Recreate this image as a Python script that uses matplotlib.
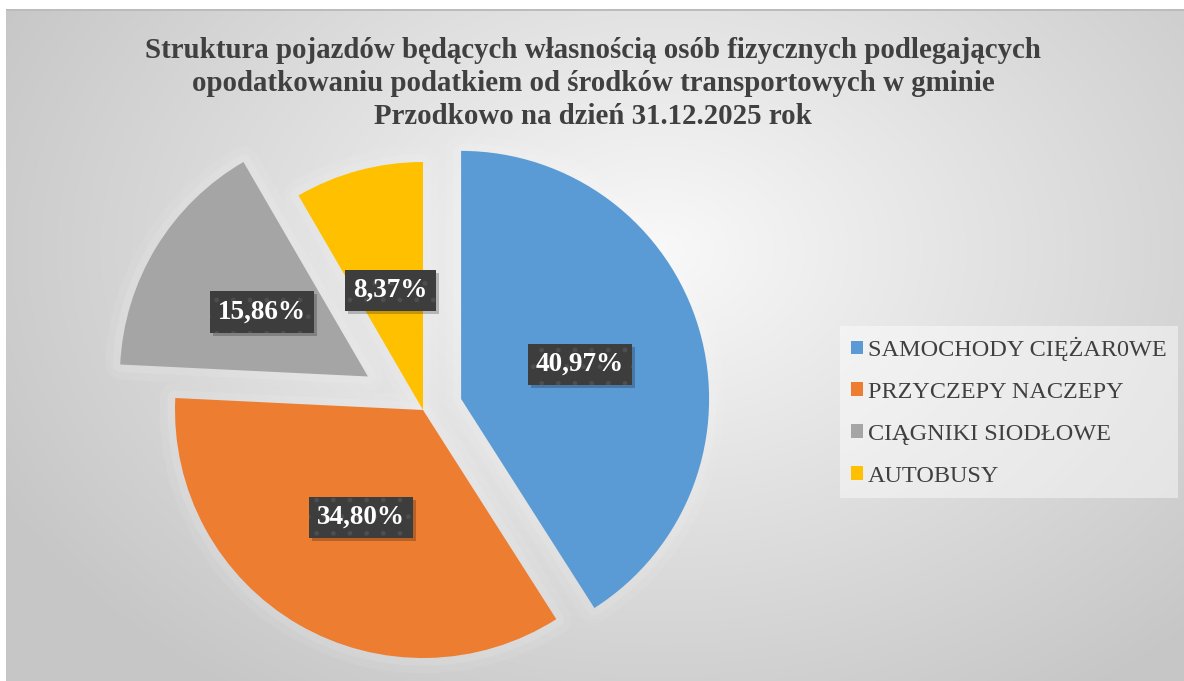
import matplotlib.pyplot as plt
import matplotlib.patches as mpatches
import numpy as np

# dane z wykresu
kategorie = ["SAMOCHODY CIĘŻAR0WE", "PRZYCZEPY NACZEPY", "CIĄGNIKI SIODŁOWE", "AUTOBUSY"]
udzialy = [40.97, 34.80, 15.86, 8.37]
kolory = ["#5B9BD5", "#ED7D31", "#A5A5A5", "#FFC000"]
wysuniecie = [0.16, 0.0, 0.26, 0.0]
tytul = ("Struktura pojazdów będących własnością osób fizycznych podlegających\n"
         "opodatkowaniu podatkiem od środków transportowych w gminie\n"
         "Przodkowo na dzień 31.12.2025 rok")

W, H = 1184, 681
R = 248.0  # promień koła w pikselach
plt.rcParams['font.family'] = ['Liberation Serif', 'DejaVu Serif']

fig = plt.figure(figsize=(W / 100, H / 100), dpi=100)
fig.patch.set_facecolor("white")
ax = fig.add_axes([0, 0, 1, 1])

# tło - gradient radialny
xx, yy = np.meshgrid(np.arange(W), np.arange(H))
d = np.sqrt(((xx - 660) / 720.0) ** 2 + ((yy - 250) / 520.0) ** 2)
v = np.clip(0.975 - 0.19 * d, 0.78, 1)
img = np.dstack([v, v, v])
img[:9, :, :] = 1.0
img[:, :6, :] = 1.0
img[9:11, 6:, :] = 0.74
ax.imshow(img, extent=(0, W / R, 0, H / R), origin="upper", zorder=0, aspect="auto")

wedges, _, teksty = ax.pie(
    udzialy, colors=kolory, explode=wysuniecie, startangle=90, counterclock=False,
    radius=1.0, center=(423 / R, (H - 410) / R),
    autopct=lambda p: f"{p:.2f}%".replace(".", ","), pctdistance=0.5,
    wedgeprops=dict(linewidth=0),
)
ax.set_xlim(0, W / R)
ax.set_ylim(0, H / R)
ax.set_aspect("auto")
ax.axis("off")

# delikatna poświata pod wycinkami
for w in wedges:
    w.set_zorder(2)
    for lw, a in [(22, 0.07), (11, 0.1)]:
        g = mpatches.Wedge(w.center, w.r, w.theta1, w.theta2, fc="none",
                           ec="white", lw=lw, alpha=a, joinstyle="round", zorder=1.5)
        ax.add_patch(g)

for t in teksty:
    t.set_color("white")
    t.set_fontsize(19.5)
    t.set_fontweight("bold")
    t.set_zorder(5)
    t.set_bbox(dict(boxstyle="square,pad=0.3", fc="#3d3d3d", ec="#4e4e4e",
                    lw=0, hatch="."))

fig.text(593 / W, 1 - 37 / H, tytul, ha="center", va="top", fontsize=20.8,
         fontweight="bold", color="#404040", linespacing=1.28)

leg = fig.legend(wedges, kategorie, loc="upper left",
                 bbox_to_anchor=(840 / W, 1 - 326 / H), borderaxespad=0,
                 frameon=True, fancybox=False, fontsize=17.5,
                 handlelength=0.5, handleheight=0.5, handletextpad=0.2,
                 labelspacing=0.86, borderpad=0.45, labelcolor="#404040")
leg.get_frame().set_facecolor("white")
leg.get_frame().set_alpha(0.45)
leg.get_frame().set_linewidth(0)

# cień pod etykietami (prostokąt przesunięty w prawo-dół)
fig.canvas.draw()
renderer = fig.canvas.get_renderer()
inv = ax.transData.inverted()
for t in teksty:
    bb = t.get_bbox_patch().get_window_extent(renderer)
    (x0, y0), (x1, y1) = inv.transform([(bb.x0 + 3, bb.y0 - 3), (bb.x1 + 3, bb.y1 - 3)])
    ax.add_patch(mpatches.Rectangle((x0, y0), x1 - x0, y1 - y0, fc="black",
                                    alpha=0.22, lw=0, zorder=4))

fig.savefig("out.png", dpi=100)
